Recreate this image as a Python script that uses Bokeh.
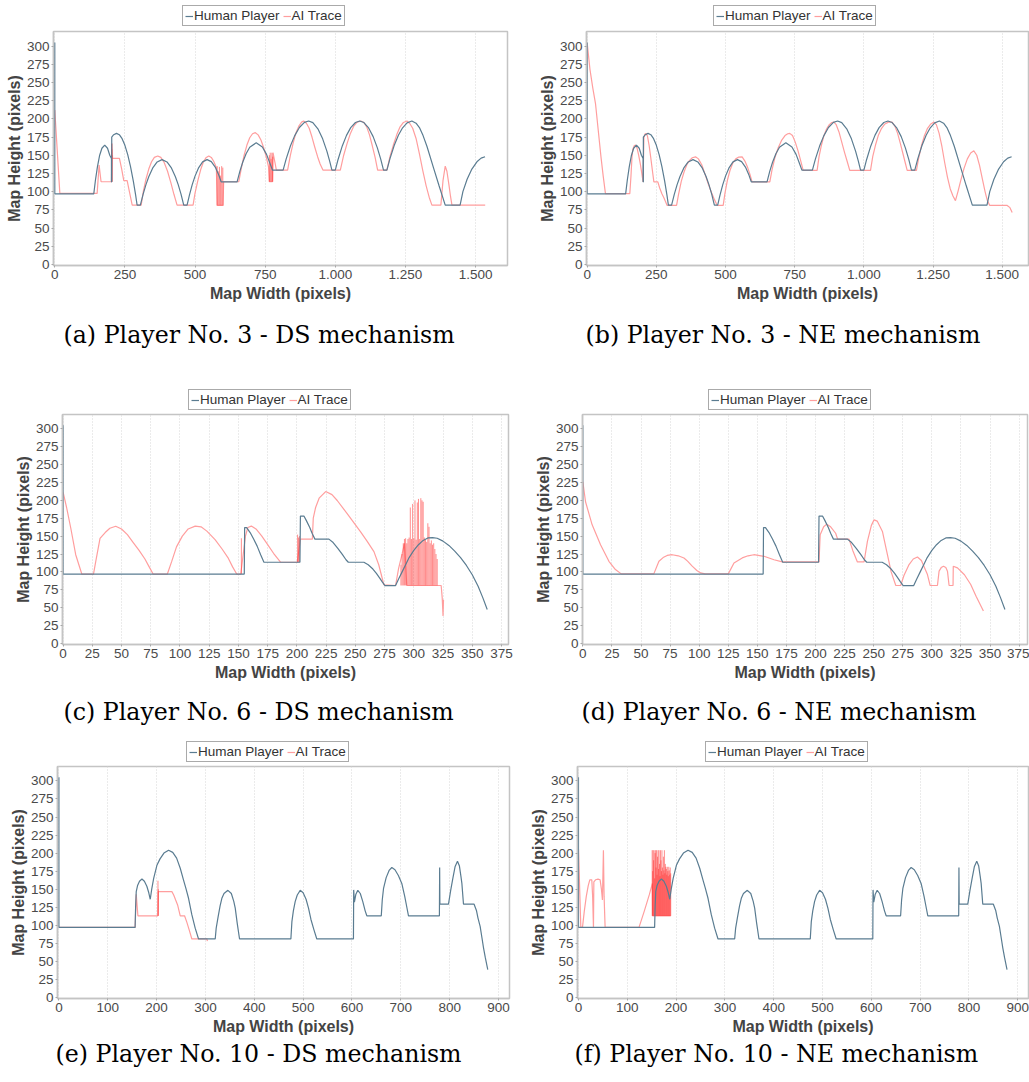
from bokeh.plotting import figure
from bokeh.models import Range1d, FixedTicker, Legend, LegendItem, Title
from bokeh.layouts import column, row
from bokeh.embed import file_html
from bokeh.resources import INLINE

# ---------------- data ----------------
Y_TICKS = [0, 25, 50, 75, 100, 125, 150, 175, 200, 225, 250, 275, 300]
X_TICKS_AB = [0, 250, 500, 750, 1000, 1250, 1500]
X_LABELS_AB = ["0", "250", "500", "750", "1.000", "1.250", "1.500"]
X_TICKS_CD = [0, 25, 50, 75, 100, 125, 150, 175, 200, 225, 250, 275, 300, 325, 350, 375]
X_LABELS_CD = ["0", "25", "50", "75", "100", "125", "150", "175", "200", "225", "250", "275", "300", "325", "350", "375"]
X_TICKS_EF = [0, 100, 200, 300, 400, 500, 600, 700, 800, 900]
X_LABELS_EF = ["0", "100", "200", "300", "400", "500", "600", "700", "800", "900"]

SERIES_NAMES = ["Human Player", "AI Trace"]
CAPTIONS = ["(a) Player No. 3 - DS mechanism", "(b) Player No. 3 - NE mechanism",
            "(c) Player No. 6 - DS mechanism", "(d) Player No. 6 - NE mechanism",
            "(e) Player No. 10 - DS mechanism", "(f) Player No. 10 - NE mechanism"]

# Player 3 human trace (panels a, b)
HUMAN_AB_X = [0, 0, 139, 145, 152, 160, 168, 178, 188, 196, 202, 202, 203, 203, 210, 220, 230, 240, 250, 260,
              270, 280, 288, 293.5, 305, 315, 325, 335, 350, 365, 382.5, 400, 415, 430, 440, 450, 459.7, 471.6, 480, 490,
              500, 512, 527, 543, 558, 572, 585, 593, 650, 660, 670, 682, 695, 718, 740, 755, 768, 776, 814, 825,
              840, 855, 872, 890, 905, 920, 938, 955, 970, 980, 988, 1000, 1010, 1025, 1040, 1055, 1072, 1087, 1102, 1118,
              1135, 1150, 1162, 1172, 1184, 1195, 1210, 1225, 1240, 1256, 1273, 1288, 1300, 1313, 1327, 1350, 1370, 1392, 1445, 1455,
              1470, 1487, 1505, 1520, 1534]
HUMAN_AB_Y = [305, 97, 97, 116, 134, 150, 159.6, 164, 159.6, 150, 145.7, 113.5, 113.5, 175, 178.2, 180, 178.2, 172.7, 163.6, 150.9,
              134.5, 114.5, 95.8, 81.5, 81.5, 96.6, 109.6, 120.5, 133, 140.8, 144, 140.8, 133, 120.5, 109.6, 96.6, 81.5, 81.5, 95.3, 109.6,
              121.3, 132.2, 140.9, 144, 141.2, 133.7, 122.4, 113.5, 113.5, 128.1, 140.3, 152, 160.9, 167, 161.4, 151.2, 138, 129.6, 129.6, 145,
              162.6, 176.6, 188.1, 195.2, 197, 194.8, 186.3, 172.5, 155.7, 142, 129.6, 129.6, 144.2, 162.8, 177.3, 187.9, 195, 197, 194.9, 188,
              175.6, 160.1, 144.7, 129.6, 129.6, 145.3, 163.3, 177.4, 187.7, 194.5, 197, 194, 188, 177, 162, 133, 108, 81.5, 81.5, 100,
              117, 131, 141, 146, 148]

AI_A_X = [0, 18, 151, 158, 165, 202, 204, 206, 230.5, 238, 246, 258, 266, 276, 308, 316, 325, 335, 345, 355,
          367, 378, 390, 402, 414, 425, 436, 493, 500, 510, 520, 530, 540, 549, 558, 566, 572, 576, 579, 600,
          602, 656, 665, 675, 685, 695, 705, 715, 725, 735, 745, 755, 762, 765, 776, 778, 785, 790, 830, 840,
          850, 860, 870, 880, 887, 897, 907, 917, 927, 937, 946, 956, 1018, 1030, 1042, 1054, 1066, 1078, 1091.5, 1102,
          1112, 1122, 1132, 1142, 1151, 1184, 1195, 1207, 1219, 1231, 1243, 1255.5, 1265, 1276, 1288, 1300, 1312, 1324, 1335, 1344.5,
          1376.5, 1384, 1392, 1398, 1405, 1411, 1416, 1534.5]
AI_A_Y = [212, 97.6, 97.6, 136.5, 113.6, 113.6, 166, 145.7, 145.7, 132, 115, 115, 100, 81.5, 81.5, 101, 117, 131, 141, 147,
          149, 147, 140, 128, 112, 96, 81.5, 81.5, 98, 115, 130, 141, 147, 149, 147, 142, 137, 133, 81, 81,
          113.6, 113.6, 132, 150, 164, 174, 179.5, 181, 178, 171, 160, 146, 134, 113.6, 113.6, 153.5, 140, 129.6, 129.6, 150,
          167, 181, 190, 195.5, 197, 194, 187, 175, 161, 148, 138, 129.6, 129.6, 150, 166, 180, 190, 195.5, 197, 195,
          189, 178, 163, 147, 129.6, 129.6, 148, 164, 178, 189, 195, 197, 194, 187, 173, 152, 129, 108, 92, 81.5,
          81.5, 115, 135, 128, 110, 93, 81.5, 81.5]
SPIKE_A_X = [202.5, 203.5, 204.5, 579, 583, 587, 591, 595, 599, 765, 768, 771, 774, 777]
SPIKE_A_LO = [113.6, 113.6, 113.6, 81, 81, 81, 81, 81, 81, 113.6, 113.6, 113.6, 113.6, 113.6]
SPIKE_A_HI = [166, 158, 150, 135, 128, 134, 122, 135, 133, 150, 153.5, 145, 153.5, 148]

AI_B_X = [0, 10, 20, 30, 40, 50, 58, 66, 154, 158, 162, 165, 170, 174.6, 180, 186, 192, 197, 202, 205,
          209, 213, 218, 224, 230, 236, 241, 255.3, 262, 270, 278, 289, 323, 330, 340, 350, 360, 370, 380, 391.5,
          402, 414, 426, 438, 450, 460, 470, 491.5, 498, 507, 516, 526, 537, 548, 560, 570, 580, 588, 596, 660,
          668, 678, 690, 702, 715, 725, 732, 742, 752, 762, 772, 780.6, 831, 838, 846, 855, 865, 875, 884, 891.5,
          900, 910, 920, 930, 940, 949, 1024, 1032, 1042, 1052, 1064, 1076, 1089, 1102, 1112, 1122, 1132, 1142, 1150, 1156.5,
          1190, 1198, 1208, 1218, 1230, 1242, 1253, 1262, 1272, 1282, 1292, 1302, 1312, 1322, 1331, 1340, 1350, 1362, 1374, 1386,
          1397.5, 1408, 1418, 1428, 1438, 1446, 1455, 1518, 1528, 1536]
AI_B_Y = [304, 268, 243, 221, 184, 147, 121, 97.3, 97.3, 120, 148, 158.4, 163, 164, 160, 150, 138, 126, 113.5, 174,
          179, 180, 176, 163, 146, 128, 113.5, 113.5, 105, 97, 91, 81, 81, 96, 114, 127, 137, 143, 146.5, 147.8,
          145, 137, 124, 110, 98, 89, 81, 81, 98, 116, 129, 139, 145, 147.5, 147.8, 142, 133, 124, 113.5, 113.5,
          130, 146, 160, 170, 177, 179.5, 180, 177, 168, 156, 142, 129.2, 129.2, 148, 163, 176, 186, 192, 195, 195.5,
          192, 182, 168, 154, 141, 129.2, 129.2, 148, 164, 177, 187, 193, 195.5, 195.5, 190, 180, 166, 151, 139, 129.2,
          129.2, 146, 163, 176, 187, 193, 195.5, 192, 180, 162, 140, 120, 104, 94, 87.6, 100, 115, 132, 145, 153,
          156, 150, 136, 118, 100, 88, 81, 81, 78, 71.4]

# Player 6 human trace (panels c, d)
HUMAN_CD_X = [0, 0, 155, 155.3, 157, 160, 163, 166, 169, 171.8, 202.6, 203, 206, 208, 211, 213, 215.4, 227.4, 231, 235,
              239, 242, 244, 257.3, 261, 265, 268, 271, 273, 275.3, 284.4, 287, 290, 293, 296, 300, 304, 308, 312, 316,
              320, 325, 330, 335, 340, 345, 350, 355, 359, 362.8]
HUMAN_CD_Y = [305, 97, 97, 162, 162, 155, 146, 136, 124, 113.5, 113.5, 178, 178, 172, 162, 154, 145.8, 145.8, 141, 133,
              124, 117, 113.5, 113.5, 110, 104, 98, 91, 86, 80.8, 80.8, 90, 100, 110, 120, 130, 138, 144, 147.5, 148,
              147, 143, 137, 129, 120, 109, 96, 80, 64, 47.5]

AI_C_X = [0, 3, 6.6, 10.8, 16, 26, 28, 31.6, 36, 40, 45, 50, 55, 60, 65, 70, 74, 77, 89.2, 93,
          97, 102, 107, 113, 118, 123, 130, 136, 141, 145, 148.5, 152, 156, 158, 161, 165, 170, 175, 180, 186,
          200.3, 203, 213.2, 214, 216, 219, 224.6, 230, 234.5, 243, 254.5, 260, 265.9, 270, 274.4, 284.4, 287, 290, 292, 294,
          320.6, 323.4, 324.3, 325, 325.4]
AI_C_Y = [211.4, 190, 161, 124, 97, 97, 115, 146.8, 155, 161, 163.8, 160, 152, 141, 130, 118, 106, 97, 97, 115,
          135, 150, 160, 164, 163, 157, 145, 132, 120, 107, 97, 97, 150, 162, 164, 160, 150, 138, 126, 113.5,
          113.5, 145.8, 145.8, 175, 190, 203, 212.3, 208, 199.8, 181.4, 156, 143, 128.3, 110, 82, 81, 105, 125, 140, 81,
          81, 81, 63.7, 38.3, 61]
SPIKE_C_X = [152.5, 200.6, 201.4, 202.2, 289, 290, 291, 292, 293, 294, 295, 296, 297, 298, 299, 300, 301, 302, 303, 304,
             305, 306, 307, 308, 309, 310, 311, 312, 313, 314, 315, 316, 317, 318, 319, 320]
SPIKE_C_LO = [97, 113.5, 113.5, 113.5, 81, 81, 81, 81, 81, 81, 81, 81, 81, 81, 81, 81, 81, 81, 81, 81,
              81, 81, 81, 81, 81, 81, 81, 81, 81, 81, 81, 81, 81, 81, 81, 81]
SPIKE_C_HI = [147, 152, 148, 150, 110, 125, 140, 146, 147, 140, 146, 148, 190, 146, 195, 147, 200, 145, 197, 202,
              146, 203, 200, 198, 148, 145, 142, 168, 163, 140, 144, 138, 140, 132, 125, 118]

AI_D_X = [0, 2.3, 8, 15.2, 22.4, 28, 33, 61, 65.4, 69, 72.5, 76.8, 82, 86.9, 90, 94, 98, 101.2, 105, 125,
          129.9, 137, 142, 147, 155.7, 164.3, 171.4, 203, 204, 207, 209.6, 213, 217.3, 219, 228.8, 232, 236, 241.7, 244.6, 248,
          250.3, 253, 257.5, 261, 265, 269, 273.2, 276, 280.4, 284, 287.6, 291, 296.2, 298.5, 304.8, 306.2, 308, 310, 312, 313.4,
          314.8, 318.2, 318.4, 322, 328, 333.4, 338, 344.3]
AI_D_Y = [226, 198, 165.8, 138, 114.8, 103.2, 97.2, 97.2, 114.8, 120, 123, 124, 122.5, 119.5, 115, 108, 102, 98.6, 97.2, 97.2,
          112.5, 119.5, 122.5, 124, 121.8, 117, 113.9, 113.9, 151.9, 163, 166.7, 163, 154, 145.8, 145.8, 130, 113.9, 113.9, 142.6, 165,
          172.7, 171, 156.5, 130, 100, 81, 81, 95, 110.2, 118, 120.8, 116, 96.3, 81, 81, 101, 106, 107.9, 106, 101,
          81, 81, 107.9, 105.6, 96, 82.4, 66, 45.4]

# Player 10 human trace (panels e, f)
HUMAN_EF_X = [0, 0, 156, 157, 158.3, 161, 165, 170, 175, 180, 184, 187, 190, 194, 200.6, 207, 215, 224.5, 233, 241,
              248.4, 255, 260, 265.4, 272, 279, 285.9, 320, 322, 326, 330, 333.6, 338, 346, 353, 358, 361, 365, 369.8, 474.9,
              477, 480, 483.7, 488, 494, 500, 506, 511, 516, 522, 528, 603, 603.5, 605, 608, 612, 617, 622, 627, 630.4,
              660, 662, 664.6, 670, 676, 681.6, 688, 695, 702, 708, 712, 715.7, 779, 779.5, 780, 797.6, 802, 806.5, 811, 816,
              820, 823, 825, 828.3, 850, 855, 858, 862.4, 866, 869.3, 873, 878]
HUMAN_EF_Y = [305, 97, 97, 125, 146.6, 155, 161, 164, 161, 154, 145, 136, 150, 165, 183, 192, 200, 204, 201, 193,
              179, 163, 151, 137.4, 115, 96, 81, 81, 96, 112, 127, 137.4, 144, 148.4, 144, 133, 123.7, 103, 81, 81,
              105, 120, 132.8, 142, 148.4, 145, 136, 123.7, 108, 94, 81, 81, 149, 132, 143, 148.4, 144, 133, 120, 113.1,
              113.1, 135, 151, 166, 176, 180, 177, 169, 158, 140, 126, 113.1, 113.1, 180, 129.2, 129.2, 148, 165, 181, 188.7,
              182, 168, 158, 129.2, 129.2, 120, 110, 98.5, 83, 68.7, 55, 38.5]

AI_E_X = [0, 156, 158.3, 161.7, 202.6, 203.5, 231.3, 235, 239, 243, 248.4, 257.2, 262, 267, 272.2, 303, 304]
AI_E_Y = [97, 97, 143, 113.1, 113.1, 146.6, 146.6, 142, 135, 128.2, 113.1, 113.1, 104, 93, 81, 81, 78]
SPIKE_E_X = [202.8, 203.4]
SPIKE_E_LO = [113.1, 113.1]
SPIKE_E_HI = [161.7, 150]

AI_F_X = [0, 4.8, 8.2, 12, 16, 20, 23.2, 27.3, 29, 30.7, 31.5, 35, 40, 44.3, 47, 49.1, 51.1, 52.5, 54.6, 124,
          135, 145, 151.4, 152, 189]
AI_F_Y = [206, 97, 97, 120, 140, 155, 163, 163, 140, 97, 160, 163, 164, 163, 150, 135, 204, 140, 97, 97,
          120, 142, 158, 113, 113]
SPIKE_F_X = [151, 152, 153, 154, 155, 156, 157, 158, 159, 160, 161, 162, 163, 164, 165, 166, 167, 168, 169, 170,
             171, 172, 173, 174, 175, 176, 177, 178, 179, 180, 181, 182, 183, 184, 185, 186, 187, 188, 189]
SPIKE_F_LO = [113] * 39
SPIKE_F_HI = [204, 175, 204, 190, 204, 165, 200, 204, 180, 204, 170, 195, 204, 178, 204, 185, 168, 204, 190, 175,
              204, 180, 170, 195, 176, 204, 172, 185, 181, 178, 170, 181, 175, 168, 181, 176, 170, 180, 172]

# ---------------- style ----------------
HUMAN_COLOR = "#5a7c91"
AI_COLOR = "#ff9e9e"
SPIKE_COLOR = "#ff3030"
SANS = "Liberation Sans"
SERIF = "DejaVu Serif"


def make_legend_strip(width, height, lx, ly, hx, hy, ax, ay):
    # legend strip above a panel; its (empty) view range hides the series, only the key is shown
    q = figure(width=width, height=height, output_backend="svg", toolbar_location=None, title=None,
               x_axis_type=None, y_axis_type=None, x_range=Range1d(0, 1), y_range=Range1d(0, 1),
               min_border_left=0, min_border_right=0, min_border_top=0, min_border_bottom=0,
               background_fill_color="white", border_fill_color="white")
    q.outline_line_color = None
    q.grid.visible = False
    h = q.line(hx, hy, line_color=HUMAN_COLOR, line_width=1.2)
    a = q.line(ax, ay, line_color=AI_COLOR, line_width=1.2)
    leg = Legend(items=[LegendItem(label=SERIES_NAMES[0], renderers=[h]),
                        LegendItem(label=SERIES_NAMES[1], renderers=[a])],
                 location=(lx, ly), orientation="horizontal",
                 label_text_font=SANS, label_text_font_size="13.5px", label_text_color="#333333",
                 glyph_width=8, glyph_height=14, label_height=14, label_standoff=1, spacing=3,
                 padding=2, margin=0, border_line_color="#555555", border_line_width=1,
                 background_fill_color="white", background_fill_alpha=1.0)
    q.add_layout(leg)
    return q


def make_panel(hx, hy, ax, ay, sx, slo, shi, xr, xticks, xlabels, caption,
               width, height, bl, br, bt, bb, cap_offset, cap_standoff):
    p = figure(width=width, height=height, output_backend="svg", toolbar_location=None, title=None,
               x_range=Range1d(xr[0], xr[1]), y_range=Range1d(-1.5, 320),
               min_border_left=bl, min_border_right=br, min_border_top=bt, min_border_bottom=bb,
               background_fill_color="white", border_fill_color="white")
    p.outline_line_color = "#c4c4c4"
    p.outline_line_width = 1.5

    p.line(ax, ay, line_color=AI_COLOR, line_width=1.2)
    p.segment(x0=sx, y0=slo, x1=sx, y1=shi, line_color=SPIKE_COLOR, line_alpha=0.55, line_width=1)
    p.line(hx, hy, line_color=HUMAN_COLOR, line_width=1.2)

    p.xaxis.ticker = FixedTicker(ticks=xticks)
    p.xaxis.major_label_overrides = {t: l for t, l in zip(xticks, xlabels)}
    p.yaxis.ticker = FixedTicker(ticks=Y_TICKS)
    p.xgrid[0].ticker = FixedTicker(ticks=xticks)
    p.xgrid.grid_line_color = "#d6d6d6"
    p.xgrid.grid_line_dash = "1 2"
    p.ygrid.visible = False
    p.xaxis.axis_label = "Map Width (pixels)"
    p.yaxis.axis_label = "Map Height (pixels)"
    for a in (p.xaxis[0], p.yaxis[0]):
        a.axis_line_color = "#c4c4c4"
        a.axis_line_width = 1.5
        a.major_tick_line_color = "#a8a8a8"
        a.major_tick_out = 2
        a.major_tick_in = 0
        a.minor_tick_line_color = None
        a.major_label_text_font = SANS
        a.major_label_text_font_size = "13.5px"
        a.major_label_text_color = "#4a4a4a"
        a.axis_label_text_font = SANS
        a.axis_label_text_font_size = "16px"
        a.axis_label_text_font_style = "bold"
        a.axis_label_text_color = "#444444"
    p.xaxis.major_label_standoff = 2
    p.xaxis.axis_label_standoff = 3
    p.yaxis.major_label_standoff = 2
    p.yaxis.axis_label_standoff = 1

    t = Title(text=caption, align="left", offset=cap_offset, text_font=SERIF, text_font_size="23.7px",
              text_font_style="normal", text_color="#000000", standoff=cap_standoff)
    p.add_layout(t, "below")
    return p


la = make_legend_strip(515, 30, 129, 4, HUMAN_AB_X, HUMAN_AB_Y, AI_A_X, AI_A_Y)
lb = make_legend_strip(514, 30, 127, 4, HUMAN_AB_X, HUMAN_AB_Y, AI_B_X, AI_B_Y)
pa = make_panel(HUMAN_AB_X, HUMAN_AB_Y, AI_A_X, AI_A_Y, SPIKE_A_X, SPIKE_A_LO, SPIKE_A_HI,
                (-4.6, 1614), X_TICKS_AB, X_LABELS_AB, CAPTIONS[0],
                515, 357, 53, 8, 1, 122, 10, 28)
pb = make_panel(HUMAN_AB_X, HUMAN_AB_Y, AI_B_X, AI_B_Y, [], [], [],
                (-2.5, 1595), X_TICKS_AB, X_LABELS_AB, CAPTIONS[1],
                514, 357, 71, 1, 1, 122, -1, 28)

lc = make_legend_strip(515, 26, 126, 3, HUMAN_CD_X, HUMAN_CD_Y, AI_C_X, AI_C_Y)
ld = make_legend_strip(514, 26, 126, 3, HUMAN_CD_X, HUMAN_CD_Y, AI_D_X, AI_D_Y)
pc = make_panel(HUMAN_CD_X, HUMAN_CD_Y, AI_C_X, AI_C_Y, SPIKE_C_X, SPIKE_C_LO, SPIKE_C_HI,
                (-0.5, 381), X_TICKS_CD, X_LABELS_CD, CAPTIONS[2],
                515, 326, 62, 7, 1, 95, 1, 24)
pd_ = make_panel(HUMAN_CD_X, HUMAN_CD_Y, AI_D_X, AI_D_Y, [], [], [],
                 (-0.3, 382.2), X_TICKS_CD, X_LABELS_CD, CAPTIONS[3],
                 514, 326, 67, 2, 1, 95, -1, 24)

le = make_legend_strip(515, 26, 129, 3, HUMAN_EF_X, HUMAN_EF_Y, AI_E_X, AI_E_Y)
lf = make_legend_strip(514, 26, 128, 3, HUMAN_EF_X, HUMAN_EF_Y, AI_F_X, AI_F_Y)
pe = make_panel(HUMAN_EF_X, HUMAN_EF_Y, AI_E_X, AI_E_Y, SPIKE_E_X, SPIKE_E_LO, SPIKE_E_HI,
                (-2.9, 922.5), X_TICKS_EF, X_LABELS_EF, CAPTIONS[4],
                515, 317, 57, 6, 1, 84, -2, 0)
pf = make_panel(HUMAN_EF_X, HUMAN_EF_Y, AI_F_X, AI_F_Y, SPIKE_F_X, SPIKE_F_LO, SPIKE_F_HI,
                (-2, 922), X_TICKS_EF, X_LABELS_EF, CAPTIONS[5],
                514, 317, 62, 1, 1, 84, -3, 0)

layout = column(row(column(la, pa), column(lb, pb)),
                row(column(lc, pc), column(ld, pd_)),
                row(column(le, pe), column(lf, pf)))
open("out.html", "w").write(file_html(layout, INLINE))
